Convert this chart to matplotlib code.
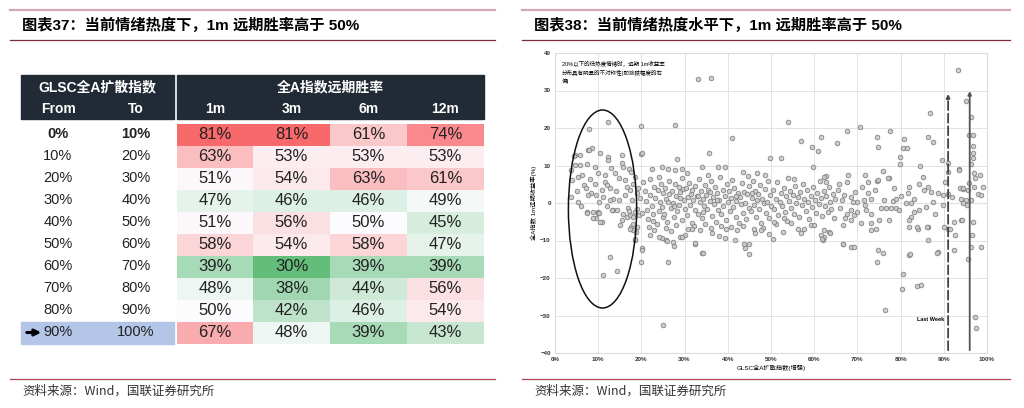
#!/usr/bin/env python
import matplotlib
matplotlib.use("Agg")
import matplotlib.pyplot as plt
from matplotlib.patches import Rectangle, Ellipse
from matplotlib.colors import LinearSegmentedColormap, TwoSlopeNorm

plt.rcParams['font.family'] = ['Liberation Sans', 'Noto Sans CJK SC', 'DejaVu Sans']

# ---- table data (left panel) ----
lo_bound = ['0%', '10%', '20%', '30%', '40%', '50%', '60%', '70%', '80%', '90%']
hi_bound = ['10%', '20%', '30%', '40%', '50%', '60%', '70%', '80%', '90%', '100%']
horizons = ['1m', '3m', '6m', '12m']
win_1m = [81, 63, 51, 47, 51, 58, 39, 48, 50, 67]
win_3m = [81, 53, 54, 46, 56, 54, 30, 38, 42, 48]
win_6m = [61, 53, 63, 46, 50, 58, 39, 44, 46, 39]
win_12m = [74, 53, 61, 49, 45, 47, 39, 56, 54, 43]

# ---- scatter data (right panel): (diffusion index %, 1m forward return %) ----
low_zone = [
    (4.6, 12.8), (5.9, 12.8), (4.4, 12.5), (7.7, 14.1), (8.6, 14.7), (7.9, 14.1), (10.4, 13.4),
    (12.3, 12.4), (12.3, 11.5), (15.4, 12.8), (19.9, 13.1), (7.9, 19.7), (12.3, 21.6), (19.9, 20.5),
    (4.6, 10.1), (5.8, 10.1), (7.3, 10.4), (9.3, 9.7), (15.4, 10.6), (15.8, 9.7), (17.2, 9.0),
    (13.0, 9.4), (3.8, 8.9), (6.2, 7.5), (5.4, 7.0), (10.0, 7.9), (11.6, 7.5), (13.9, 7.9),
    (17.7, 8.4), (18.5, 7.0), (8.2, 6.4), (4.0, 6.1), (14.8, 6.6), (16.3, 6.1), (9.3, 5.2),
    (6.6, 4.8), (11.6, 5.7), (12.0, 4.8), (12.7, 3.9), (10.8, 3.5), (16.6, 4.4), (17.4, 3.5),
    (18.1, 5.2), (18.9, 2.6), (16.2, 2.1), (5.0, 3.2), (7.1, 3.9), (8.4, 2.8), (14.2, 3.3),
    (19.3, 4.0), (13.5, 1.2), (14.7, 0.8), (12.7, 0.8), (9.6, 2.1), (7.7, 2.1), (5.4, 0.4),
    (3.6, 1.6), (11.1, 1.5), (17.8, 0.9), (19.6, 1.3), (10.2, 0.2), (7.3, -2.3), (8.9, -2.3),
    (10.0, -2.3), (13.5, -1.9), (14.3, -1.9), (13.2, -1.9), (7.4, -2.6), (9.9, -2.6), (10.3, -2.6),
    (6.0, -0.8), (16.9, -1.2), (19.0, -1.6), (12.0, -0.7), (9.6, -4.1), (10.8, -5.0), (8.9, -4.1),
    (10.5, -5.0), (15.8, -2.8), (16.6, -3.6), (17.4, -3.2), (18.1, -3.6), (15.4, -4.5), (19.4, -3.1),
    (18.6, -2.4), (17.2, -2.0), (17.7, -6.3), (18.1, -7.2), (18.5, -9.9), (15.0, -5.9), (17.4, -6.8),
    (18.1, -5.5), (18.6, -9.7), (18.8, -7.6), (19.0, -6.3), (20.1, -12.1), (12.7, -14.3),
    (14.3, -18.0), (11.0, -19.2), (20.1, -12.5), (20.0, -15.6),
]

mid_zone = [
    (33.0, 33.0), (36.0, 33.3), (27.8, 20.8), (41.0, 17.3), (35.6, 13.3), (28.2, 11.7), (20.1, 13.3),
    (22.4, 9.2), (24.7, 9.7), (26.2, 9.2), (27.8, 8.8), (29.3, 9.2), (30.5, 7.9), (34.0, 9.7),
    (35.5, 7.5), (37.8, 9.7), (39.4, 9.7), (43.6, 8.4), (46.7, 7.9), (48.6, 7.5),
    (20.4, 5.6), (20.8, 3.1), (21.0, 0.6), (21.3, -1.8), (21.5, -4.2), (21.9, 2.2), (22.1, 6.3),
    (22.4, -0.9), (22.6, -3.0), (22.9, 4.4), (23.2, 1.3), (23.5, -5.6), (23.8, 3.6), (24.0, -2.1),
    (24.3, 0.2), (24.6, 5.1), (24.8, -1.0), (25.0, 2.7), (21.7, -6.4), (23.0, -7.1), (24.1, 7.0),
    (20.2, -2.6), (22.8, -4.9), (24.9, -3.8),
    (25.3, -2.9), (25.5, 4.0), (25.8, 1.0), (26.0, -5.0), (26.3, 2.4), (26.5, 6.0), (26.8, -1.4),
    (27.0, 3.3), (27.3, 0.1), (27.5, -3.6), (27.8, 5.2), (28.0, 1.8), (28.3, -2.2), (28.6, 4.3),
    (28.8, -0.6), (29.0, 2.9), (29.3, -4.4), (29.5, 6.6), (29.8, 0.9), (30.0, -1.7), (25.6, -6.6),
    (26.9, -7.4), (28.1, -5.9), (29.6, 3.7), (26.2, 0.4), (27.6, -0.8), (28.9, 1.4),
    (30.3, 3.9), (30.5, -3.1), (30.8, 1.6), (31.0, 5.3), (31.3, -0.4), (31.5, 2.5), (31.8, -5.3),
    (32.0, 0.7), (32.3, 4.6), (32.5, -1.9), (32.8, 2.0), (33.0, -2.8), (33.3, 6.4), (33.5, 0.3),
    (33.8, 3.2), (34.0, -4.0), (34.3, 1.1), (34.5, -0.9), (34.8, 4.8), (35.0, 2.1), (30.9, -6.9),
    (32.2, -6.0), (33.6, -7.3), (34.7, -5.6), (31.7, 3.4), (33.1, 1.9), (34.2, -2.5),
    (35.3, -1.5), (35.5, 3.6), (35.8, 0.6), (36.0, 5.9), (36.3, -3.4), (36.5, 1.7), (36.8, -0.2),
    (37.0, 4.2), (37.3, -5.0), (37.5, 2.6), (37.8, -1.8), (38.0, 0.9), (38.3, 6.9), (38.5, -2.9),
    (38.8, 3.5), (39.0, -0.7), (39.3, 1.9), (39.5, -4.6), (39.8, 5.0), (40.0, 0.2), (36.1, -6.7),
    (38.4, -6.2), (39.6, -7.0), (35.9, 2.9), (37.6, 0.8),
    (40.3, 3.1), (40.5, -2.2), (40.8, 1.3), (41.0, 6.2), (41.3, -1.0), (41.5, 4.1), (41.8, -3.8),
    (42.0, 0.5), (42.3, 2.7), (42.5, -5.4), (42.8, 1.5), (43.0, -0.3), (43.3, 5.4), (43.5, -2.6),
    (43.8, 3.0), (44.0, 0.0), (44.3, -4.3), (44.5, 2.3), (44.8, -1.2), (45.0, 4.5), (40.7, -6.4),
    (42.2, -7.2), (43.6, -6.1), (44.6, 7.1), (41.9, 2.0),
    (45.3, -2.0), (45.5, 1.4), (45.8, 5.8), (46.0, -0.5), (46.3, 3.2), (46.5, -3.7), (46.8, 0.8),
    (47.0, 2.4), (47.3, -1.5), (47.5, 4.7), (47.8, -5.2), (48.0, 1.0), (48.3, -0.1), (48.5, 3.8),
    (48.8, -2.7), (49.0, 0.4), (49.3, 6.0), (49.5, -4.0), (49.8, 2.2), (50.0, -0.9), (46.1, -7.0),
    (48.2, -6.6), (49.6, -8.3), (45.7, 2.7),
    (24.7, -9.4), (25.8, -9.9), (27.4, -10.3), (28.9, -9.0), (30.1, -8.5), (31.6, -6.8), (34.0, -13.4),
    (32.4, -10.8), (36.3, -8.1), (39.4, -9.4), (41.7, -9.9), (44.0, -12.1), (44.8, -10.8), (46.3, -8.1),
    (47.8, -7.2), (24.0, -9.1), (26.0, -10.0), (27.5, -11.5), (29.4, -9.0), (26.1, -15.8),
    (25.1, -32.5), (34.3, -13.4), (44.8, -13.6), (43.7, -10.8), (32.5, -10.6), (22.0, -8.4), (38.0, -8.8),
]

high_zone = [
    (54.0, 21.5), (70.6, 20.4), (67.5, 19.1), (77.5, 19.3), (56.9, 16.6), (61.6, 17.5), (65.3, 15.9),
    (74.5, 17.5), (74.8, 15.0), (80.8, 17.1), (80.6, 14.8), (81.4, 14.8), (86.4, 17.7), (87.6, 16.2),
    (59.6, 14.9), (60.9, 14.0), (89.5, 11.5), (79.9, 12.4), (79.9, 10.4), (49.8, 11.9), (52.2, 11.9),
    (59.8, 9.5), (86.9, 24.1), (84.5, 9.9), (85.3, 7.0), (90.3, 5.5), (76.0, 8.6), (77.2, 6.6),
    (74.5, 6.0), (67.9, 7.5), (71.7, 7.5), (62.7, 7.2), (67.7, 5.5), (53.9, 6.6), (55.4, 6.3),
    (62.3, 7.0), (62.7, 5.7), (72.4, 5.7), (74.7, 6.1), (77.0, 6.6), (82.0, 4.4), (84.3, 5.2),
    (86.3, 4.4), (81.6, 2.6), (85.5, 3.5), (87.0, 3.0), (88.6, 2.6), (89.7, 2.1),
    (50.5, 3.4), (50.8, -1.6), (51.1, 1.2), (51.4, 5.5), (51.7, -3.3), (52.0, 0.3), (52.3, 2.8),
    (52.6, -0.8), (52.9, 4.1), (53.2, -2.4), (53.5, 1.8), (53.8, -4.7), (54.1, 0.6), (54.4, 3.3),
    (54.7, -1.3), (55.0, 2.2), (55.3, -2.9), (55.6, 4.6), (55.9, 0.0), (56.2, 1.6), (56.5, -3.8),
    (56.8, 2.9), (57.1, -0.5), (57.4, 5.0), (57.7, 1.1), (58.0, -2.0), (58.3, 3.6), (58.6, 0.4),
    (58.9, -4.2), (59.2, 2.0), (59.5, -1.1), (59.8, 4.2), (60.1, 0.8), (60.4, -2.6), (60.7, 2.6),
    (61.0, -0.3), (61.3, 5.8), (61.6, 1.4), (61.9, -3.4), (62.2, 3.1), (62.5, -0.9), (62.8, 1.9),
    (63.1, -2.3), (63.4, 4.3), (63.7, 0.2), (64.0, -1.6), (64.3, 2.5), (64.6, -4.0), (64.9, 1.0),
    (51.2, -5.6), (53.1, -4.1), (54.6, -5.4), (56.2, -6.8), (57.7, -6.8), (59.3, -5.9), (60.0, -5.9),
    (50.8, -5.0), (62.3, -7.2), (63.5, -7.6), (62.3, -9.0), (66.6, -5.9), (66.6, -10.8), (68.5, -11.6),
    (62.0, -9.9), (61.6, -8.5), (50.5, -9.7), (61.7, -9.7), (63.6, -8.1), (66.7, -10.8), (69.1, -11.8),
    (57.0, -8.0), (52.8, -7.6),
    (65.5, 3.6), (66.0, -1.2), (66.5, 0.9), (67.0, 2.2), (67.5, -2.8), (68.5, 1.7), (70.0, 0.4),
    (71.6, 0.8), (73.1, 1.2), (68.9, 0.4), (76.2, 0.8), (78.2, 0.6), (81.2, -0.1), (82.4, -0.1),
    (75.5, -1.4), (76.6, -1.4), (77.8, -1.4), (78.9, -1.4), (79.7, -1.9), (68.5, -1.9), (69.3, -3.2),
    (70.0, -2.3), (72.0, -1.9), (73.1, -2.8), (83.2, -2.3), (84.3, -1.9), (85.9, -1.0), (82.4, -3.6),
    (68.5, -4.5), (70.8, -5.4), (73.1, -5.4), (75.1, -4.5), (77.4, -4.5), (82.0, -4.5), (84.0, -6.8),
    (86.3, -6.5), (82.0, -6.3), (73.1, -7.2), (74.3, -7.0), (86.3, -9.9), (88.6, -13.0), (82.0, -13.9),
    (74.7, -12.5), (76.4, -28.5), (80.5, -18.9), (80.4, -22.8), (83.7, -22.1), (84.7, -21.9),
    (75.9, -13.2), (74.6, -15.7), (82.2, -13.7), (88.5, -13.2), (86.0, -6.5), (83.7, -6.3),
    (69.5, 3.0), (71.0, 4.2), (72.5, 2.6), (74.0, 3.4), (78.5, 3.9), (80.0, 2.0), (65.8, 5.0),
    (67.2, -3.9), (71.8, -0.6), (79.0, 1.2), (83.0, 1.0), (87.5, 0.3), (89.9, -0.5), (88.0, -3.0),
]

top_zone = [
    (93.2, 35.5), (95.1, 27.2), (96.2, 23.0), (95.9, 18.2), (96.8, 18.2), (96.8, 15.2), (96.8, 13.3),
    (96.8, 12.0), (96.4, 10.3), (93.5, 9.0), (98.4, 7.5), (97.2, 6.6), (99.0, 4.4), (98.0, 2.4),
    (95.9, 5.4), (93.7, 4.0), (94.5, 3.7), (93.6, 8.8), (97.1, 7.9), (94.4, 3.9), (95.5, 3.5),
    (97.1, 4.4), (98.6, 2.1), (94.0, 1.2), (95.1, 0.8), (96.3, 0.8), (91.0, 8.4), (91.0, 10.6),
    (90.9, 2.3), (92.4, -5.0), (94.0, -4.5), (90.1, -6.3), (90.9, -6.8), (92.4, -12.5), (98.6, -11.6),
    (96.3, -11.6), (97.2, -30.5), (97.4, -33.2), (95.7, -15.0), (92.6, -8.4), (94.1, -4.5),
    (96.8, -5.0), (96.6, -8.5), (91.4, -6.8), (94.5, -0.1), (95.3, -0.5), (92.0, 1.5),
]

x_ticks = [0, 10, 20, 30, 40, 50, 60, 70, 80, 90, 100]
y_ticks = [-40, -30, -20, -10, 0, 10, 20, 30, 40]
last_week = 91
this_week = 96


def cell_color():
    cmap = LinearSegmentedColormap.from_list('gwr', ['#63be7b', '#fcfcff', '#f8696b'])
    norm = TwoSlopeNorm(vmin=30, vcenter=50, vmax=81)
    return lambda v: cmap(norm(v))


def draw_frame(bg, x0, x1, title):
    bg.plot([x0, x1], [10, 10], color='#d4a8b4', lw=1.6)
    bg.plot([x0, x1], [40, 40], color='#7d2a3c', lw=0.9)
    bg.plot([x0, x1], [379, 379], color='#b04458', lw=0.9)
    bg.text(x0 + 12, 25, title, fontsize=11, fontweight='bold', va='center', ha='left',
            family=['Liberation Sans', 'Noto Sans CJK SC'])
    bg.text(x0 + 12, 391, '资料来源：Wind，国联证券研究所', fontsize=9, va='center', ha='left',
            color='#333333', family=['Noto Sans CJK SC'])


def draw_table(bg):
    navy = '#222a35'
    bg.add_patch(Rectangle((21, 75), 153, 44, color=navy))
    bg.add_patch(Rectangle((177, 75), 307, 44, color=navy))
    bg.text(97, 87, 'GLSC全A扩散指数', color='white', fontsize=10, fontweight='bold', ha='center', va='center')
    bg.text(58, 109, 'From', color='white', fontsize=10, fontweight='bold', ha='center', va='center')
    bg.text(136, 109, 'To', color='white', fontsize=10, fontweight='bold', ha='center', va='center')
    bg.text(330, 87, '全A指数远期胜率', color='white', fontsize=10, fontweight='bold', ha='center', va='center')

    col_edges = [177, 253, 330, 407, 484]
    for j, h in enumerate(horizons):
        bg.text((col_edges[j] + col_edges[j + 1]) / 2, 109, h, color='white', fontsize=10,
                fontweight='bold', ha='center', va='center')

    color_of = cell_color()
    row_top, row_h = 123.5, 22
    series = [win_1m, win_3m, win_6m, win_12m]
    for i in range(len(lo_bound)):
        y0 = row_top + i * row_h
        yc = y0 + row_h / 2
        if i == len(lo_bound) - 1:
            bg.add_patch(Rectangle((21, y0), 153, row_h, color='#b4c6e7'))
            bg.annotate('', xy=(44, yc), xytext=(24, yc),
                        arrowprops=dict(arrowstyle='-|>', lw=2.2, color='black', mutation_scale=9))
        w = 'bold' if i == 0 else 'normal'
        bg.text(58, yc, lo_bound[i], fontsize=10.5, fontweight=w, ha='center', va='center', color='#222222')
        bg.text(136, yc, hi_bound[i], fontsize=10.5, fontweight=w, ha='center', va='center', color='#222222')
        for j, s in enumerate(series):
            bg.add_patch(Rectangle((col_edges[j], y0), col_edges[j + 1] - col_edges[j], row_h,
                                   color=color_of(s[i]), lw=0))
            bg.text((col_edges[j] + col_edges[j + 1]) / 2, yc, '%d%%' % s[i], fontsize=12,
                    ha='center', va='center', color='#222222')


def draw_scatter(fig):
    ax = fig.add_axes([555 / 1024, 1 - 353 / 408, 432 / 1024, 300 / 408])
    for zone in [low_zone, mid_zone, high_zone, top_zone]:
        xs = [p[0] for p in zone]
        ys = [p[1] for p in zone]
        ax.scatter(xs, ys, s=11, facecolor='#c9c9c9', edgecolor='#7a7a7a', linewidth=0.6,
                   alpha=0.9, zorder=3)
    ax.set_xlim(0, 100)
    ax.set_ylim(-40, 40)
    ax.set_xticks(x_ticks)
    ax.set_xticklabels(['%d%%' % t for t in x_ticks])
    ax.set_yticks(y_ticks)
    ax.tick_params(labelsize=4.5, length=0, pad=3, colors='#333333')
    for lab in ax.get_xticklabels() + ax.get_yticklabels():
        lab.set_fontweight('bold')
    ax.grid(True, color='#e3e3e3', lw=0.7, zorder=0)
    ax.axhline(0, color='#c8c8c8', lw=0.8, zorder=1)
    for sp in ax.spines.values():
        sp.set_color('#dcdcdc')
        sp.set_linewidth(0.8)
    ax.set_xlabel('GLSC全A扩散指数(增强)', fontsize=4.5, labelpad=2,
                  family=['Liberation Sans', 'Noto Sans CJK SC'])
    ax.set_ylabel('全A指数 1m远期收益率(%)', fontsize=4.5, labelpad=2,
                  family=['Liberation Sans', 'Noto Sans CJK SC'])

    ax.add_patch(Ellipse((11, -1.6), 15.8, 52.8, fill=False, edgecolor='#111111', lw=1.1, zorder=4))
    ax.annotate('', xy=(last_week, 29.8), xytext=(last_week, -40),
                arrowprops=dict(arrowstyle='-|>', lw=1.3, color='#444444', linestyle=(0, (5, 2)),
                                mutation_scale=5), zorder=5)
    ax.annotate('', xy=(this_week, 30.6), xytext=(this_week, -40),
                arrowprops=dict(arrowstyle='-|>', lw=1.3, color='#555555', mutation_scale=5), zorder=5)
    ax.text(87, -31, 'Last Week', fontsize=4, ha='center', va='center', fontweight='bold', zorder=5)
    ax.text(1.6, 37.8, '20%以下的低热度情绪时，远期 1m收益率\n分布具有明显的不对称性(即涨跌幅度的右\n偏)',
            fontsize=4, ha='left', va='top', linespacing=1.5, zorder=5,
            family=['Liberation Sans', 'Noto Sans CJK SC'])
    return ax


def main():
    fig = plt.figure(figsize=(10.24, 4.08), dpi=100)
    bg = fig.add_axes([0, 0, 1, 1])
    bg.set_xlim(0, 1024)
    bg.set_ylim(408, 0)
    bg.axis('off')

    draw_frame(bg, 10, 495, '图表37：当前情绪热度下，1m 远期胜率高于 50%')
    draw_frame(bg, 522, 1010, '图表38：当前情绪热度水平下，1m 远期胜率高于 50%')
    draw_table(bg)
    draw_scatter(fig)

    fig.savefig('out.png', dpi=100)


if __name__ == "__main__":
    main()
